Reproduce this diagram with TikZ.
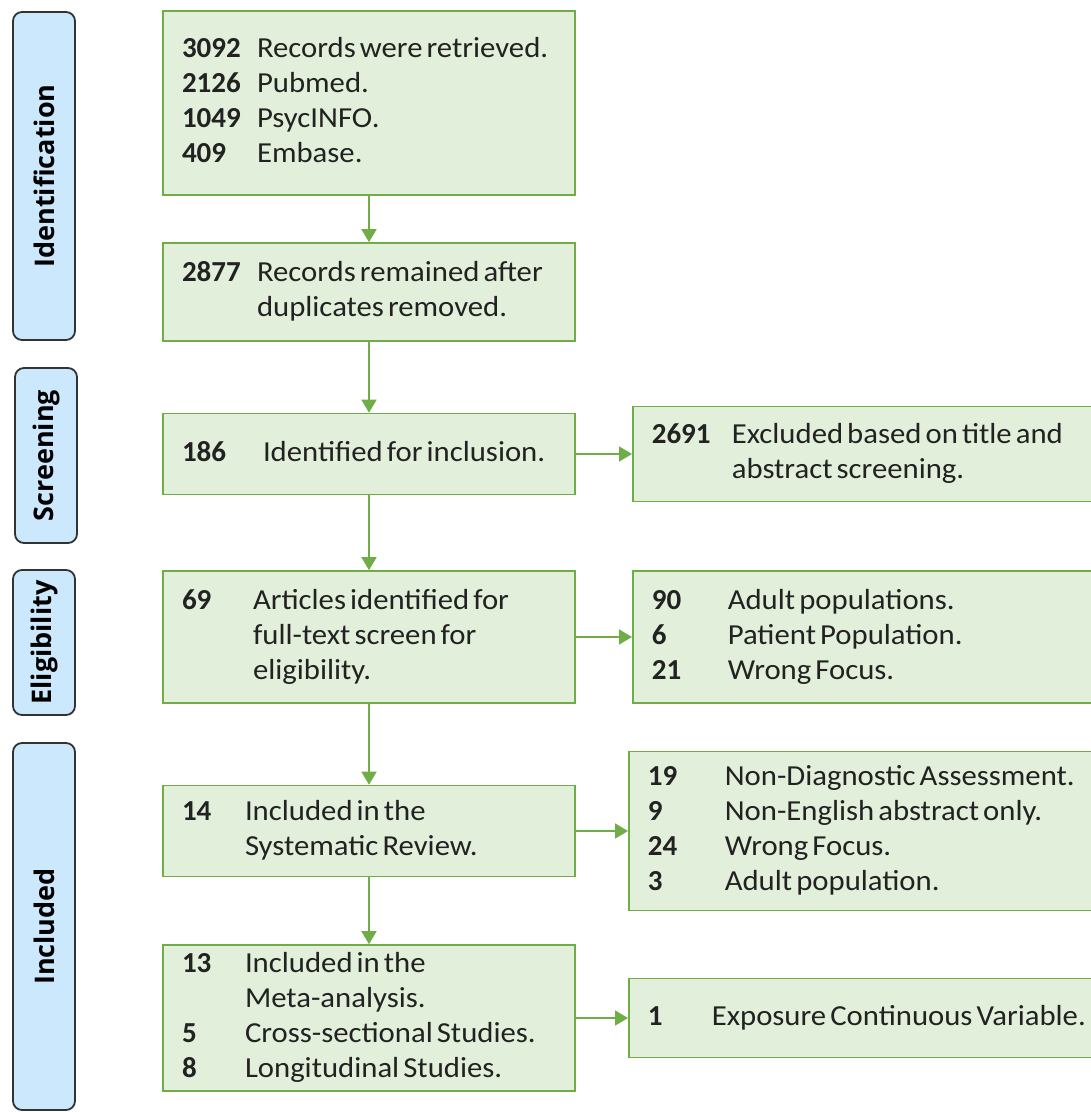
\documentclass[tikz,border=0pt]{standalone}
\usepackage{fontspec}
\setmainfont{Carlito}[FakeStretch=1.06]
\newfontfamily\tallyfont{Carlito}
\newfontfamily\stagefont{Open Sans}
\usetikzlibrary{arrows.meta,calc,positioning}
\definecolor{prismaline}{HTML}{70AD47}
\definecolor{prismafill}{HTML}{E2EFDA}
\definecolor{prismatext}{HTML}{222222}
\definecolor{stageink}{HTML}{333333}
\definecolor{stagefill}{HTML}{CCE8FC}
\newcommand{\tally}[1]{{\tallyfont\bfseries #1}}
\newcommand{\countrows}[2]{\spaceskip=0.14em plus 0.05em\relax
  \begin{tabular}{@{}p{#1}@{}l@{}}#2\end{tabular}}
\tikzset{
  stagebox/.style={draw=stageink,fill=stagefill,line width=1.8pt,rounded corners=9pt,
    rotate=90,minimum height=62pt,inner sep=0pt,text=black,
    font=\stagefont\fontsize{27}{32}\selectfont\bfseries},
  flowbox/.style={draw=prismaline,fill=prismafill,line width=1.6pt,inner ysep=0pt,
    inner xsep=19pt,align=left,text=prismatext,font=\fontsize{29}{35}\selectfont},
  mainbox/.style={flowbox,minimum width=412pt,text width=374pt},
  sidebox/.style={flowbox,anchor=west,minimum width=470pt,text width=432pt},
  flowarrow/.style={draw=prismaline,line width=1.6pt,-{Triangle[length=13pt,width=15pt]}},
}

\begin{document}
\begin{tikzpicture}[x=1pt,y=-1pt]
  \path[use as bounding box,fill=white] (0,0) rectangle (1091,1112);
  \clip (0,0) rectangle (1091,1112);

  % stages
  \node[stagebox,minimum width=328pt] (identification) at (44,176) {Identification};
  \node[stagebox,minimum width=175pt] (screening) at (46,455.5) {Screening};
  \node[stagebox,minimum width=145pt] (eligibility) at (44,642.5) {Eligibility};
  \node[stagebox,minimum width=367pt] (included) at (44,926.5) {Included};

  % main column
  \node[mainbox,minimum height=184pt] (retrieved) at (369,103) {\countrows{75pt}{%
    \tally{3092} & Records were retrieved.\\
    \tally{2126} & Pubmed.\\
    \tally{1049} & PsycINFO.\\
    \tally{409} & Embase.}};
  \node[mainbox,minimum height=98pt] (deduplicated) at (369,292) {\countrows{75pt}{%
    \tally{2877} & Records remained after\\
    & duplicates removed.}};
  \node[mainbox,minimum height=81pt] (screened) at (369,454) {\countrows{81pt}{%
    \tally{186} & Identified for inclusion.}};
  \node[mainbox,minimum height=132pt] (fulltext) at (369,637) {\countrows{71pt}{%
    \tally{69} & Articles identified for\\
    & full-text screen for\\
    & eligibility.}};
  \node[mainbox,minimum height=91pt] (review) at (369,831) {\countrows{63pt}{%
    \tally{14} & Included in the\\
    & Systematic Review.}};
  \node[mainbox,minimum height=146pt] (meta) at (369,1018) {\countrows{63pt}{%
    \tally{13} & Included in the\\
    & Meta-analysis.\\
    \tally{5} & Cross-sectional Studies.\\
    \tally{8} & Longitudinal Studies.}};

  % exclusions
  \node[sidebox,minimum height=95pt] (excludedtitle) at (632,454) {\countrows{80pt}{%
    \tally{2691} & Excluded based on title and\\
    & abstract screening.}};
  \node[sidebox,minimum height=132pt] (excludedfull) at (632,637) {\countrows{76pt}{%
    \tally{90} & Adult populations.\\
    \tally{6} & Patient Population.\\
    \tally{21} & Wrong Focus.}};
  \node[sidebox,minimum height=159pt] (excludedreview) at (628,831) {\countrows{77pt}{%
    \tally{19} & Non-Diagnostic Assessment.\\
    \tally{9} & Non-English abstract only.\\
    \tally{24} & Wrong Focus.\\
    \tally{3} & Adult population.}};
  \node[sidebox,minimum height=79pt] (excludedmeta) at (628,1018) {\countrows{64pt}{%
    \tally{1} & Exposure Continuous Variable.}};

  % arrows
  \draw[flowarrow] (retrieved) -- (deduplicated);
  \draw[flowarrow] (deduplicated) -- (screened);
  \draw[flowarrow] (screened) -- (fulltext);
  \draw[flowarrow] (fulltext) -- (review);
  \draw[flowarrow] (review) -- (meta);
  \draw[flowarrow] (screened.east) -- (screened.east -| excludedtitle.west);
  \draw[flowarrow] (fulltext.east) -- (fulltext.east -| excludedfull.west);
  \draw[flowarrow] (review.east) -- (review.east -| excludedreview.west);
  \draw[flowarrow] (meta.east) -- (meta.east -| excludedmeta.west);
\end{tikzpicture}
\end{document}
